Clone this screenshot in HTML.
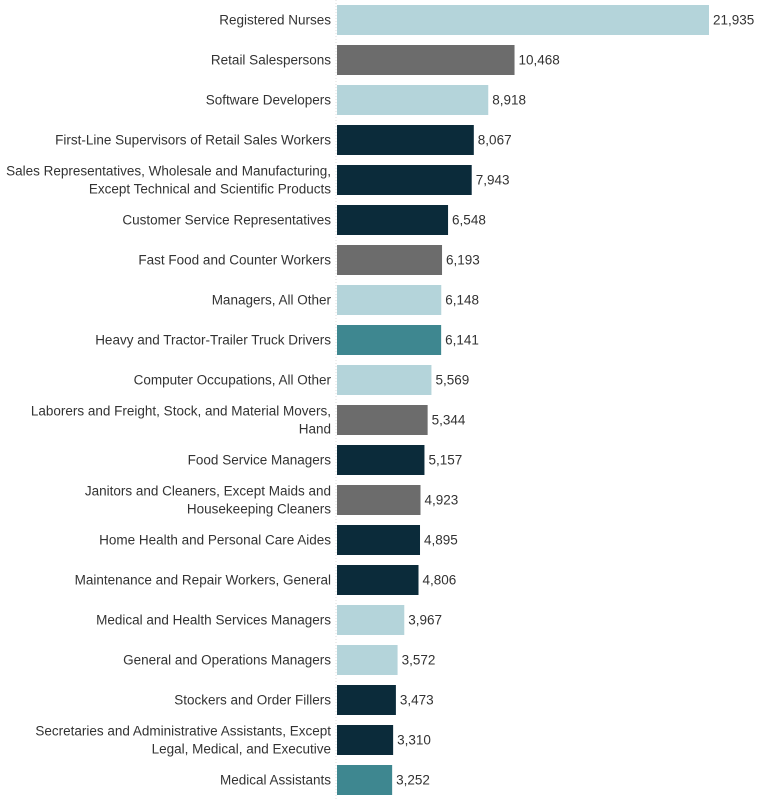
<!DOCTYPE html>
<html><head><meta charset="utf-8"><style>
body{margin:0;background:#fff;width:779px;height:800px;overflow:hidden;font-family:"Liberation Sans",sans-serif}
svg text{font-size:13.5px;fill:#333}
</style></head><body>
<svg id="chart" width="779" height="800" xmlns="http://www.w3.org/2000/svg"></svg>
<script>
const categories=[["Registered Nurses"],["Retail Salespersons"],["Software Developers"],["First-Line Supervisors of Retail Sales Workers"],["Sales Representatives, Wholesale and Manufacturing,","Except Technical and Scientific Products"],["Customer Service Representatives"],["Fast Food and Counter Workers"],["Managers, All Other"],["Heavy and Tractor-Trailer Truck Drivers"],["Computer Occupations, All Other"],["Laborers and Freight, Stock, and Material Movers,","Hand"],["Food Service Managers"],["Janitors and Cleaners, Except Maids and","Housekeeping Cleaners"],["Home Health and Personal Care Aides"],["Maintenance and Repair Workers, General"],["Medical and Health Services Managers"],["General and Operations Managers"],["Stockers and Order Fillers"],["Secretaries and Administrative Assistants, Except","Legal, Medical, and Executive"],["Medical Assistants"]];
const values=[21935,10468,8918,8067,7943,6548,6193,6148,6141,5569,5344,5157,4923,4895,4806,3967,3572,3473,3310,3252];
const groups=["l","g","l","d","d","d","g","l","t","l","g","d","g","d","d","l","l","d","d","t"];
const colors={l:"#b4d4da",g:"#6c6c6c",d:"#0b2b3a",t:"#3e8790"};
const svg=document.getElementById('chart');
const NS="http://www.w3.org/2000/svg";
const x0=337,xScale=v=>v*(372/21935);
const yCenter=i=>20+i*40;
const line=document.createElementNS(NS,'line');
line.setAttribute('x1',336);line.setAttribute('x2',336);line.setAttribute('y1',0);line.setAttribute('y2',800);
line.setAttribute('stroke','#ddd');line.setAttribute('stroke-dasharray','1,2');


svg.appendChild(line);
values.forEach((v,i)=>{
 const cy=yCenter(i);
 const r=document.createElementNS(NS,'rect');
 r.setAttribute('x',x0);r.setAttribute('y',cy-15);r.setAttribute('width',xScale(v));r.setAttribute('height',30);
 r.setAttribute('fill',colors[groups[i]]);
 
 
 svg.appendChild(r);
 const t=document.createElementNS(NS,'text');
 t.setAttribute('x',x0+xScale(v)+4);t.setAttribute('y',cy+4.5);
 t.textContent=v.toLocaleString('en-US');
 
 
 svg.appendChild(t);
 const lines=categories[i];
 lines.forEach((s,k)=>{
  const c=document.createElementNS(NS,'text');
  c.setAttribute('x',331);c.setAttribute('text-anchor','end');
  c.setAttribute('y',cy+4.5+(k-(lines.length-1)/2)*18);
  c.textContent=s;
  
  
  svg.appendChild(c);
 });
});
</script>
</body></html>
